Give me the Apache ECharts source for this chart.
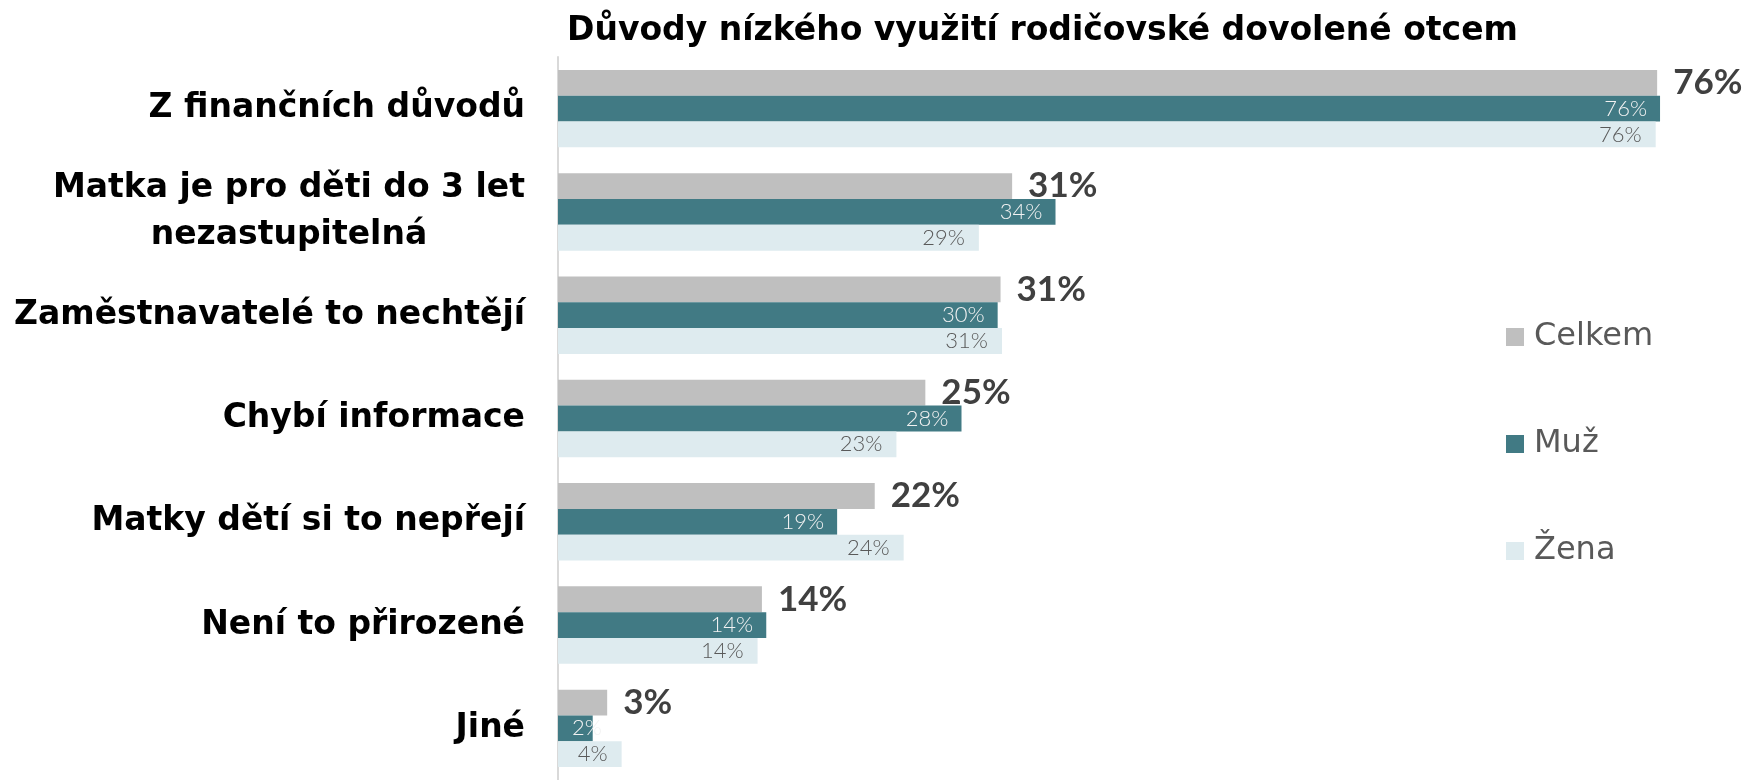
<!DOCTYPE html>
<html>
<head>
<meta charset="utf-8">
<script src="https://cdn.jsdelivr.net/npm/echarts@6/dist/echarts.min.js"></script>
<style>html,body{margin:0;padding:0;background:#fff;}#c{width:1750px;height:780px;}</style>
</head>
<body>
<div id="c"></div>
<script>
var categories = [
  'Z finančních důvodů',
  'Matka je pro děti do 3 let\nnezastupitelná',
  'Zaměstnavatelé to nechtějí',
  'Chybí informace',
  'Matky dětí si to nepřejí',
  'Není to přirozené',
  'Jiné'
];
var seriesNames = ['Celkem', 'Muž', 'Žena'];
var celkem = [76.0, 31.4, 30.6, 25.4, 21.9, 14.1, 3.4];
var muz    = [76.2, 34.4, 30.4, 27.9, 19.3, 14.4, 2.4];
var zena   = [75.9, 29.1, 30.7, 23.4, 23.9, 13.8, 4.4];
var colors = ['#bfbfbf', '#417a84', '#deebef'];

function pct(p) { return Math.round(p.value) + '%'; }

var muzData = muz.map(function (v, i) {
  if (i === categories.length - 1) {
    return { value: v, label: { position: 'insideLeft', distance: 14 } };
  }
  return v;
});

var chart = echarts.init(document.getElementById('c'), null, { renderer: 'canvas' });
chart.setOption({
  animation: false,
  backgroundColor: '#ffffff',
  title: {
    text: 'Důvody nízkého využití rodičovské dovolené otcem',
    left: 562,
    top: 10,
    textStyle: { fontFamily: 'DejaVu Sans', fontWeight: 'bold', fontSize: 33, color: '#000000' }
  },
  legend: {
    orient: 'vertical',
    left: 1501,
    top: 314,
    itemWidth: 18,
    itemHeight: 18,
    itemGap: 71,
    icon: 'rect',
    data: seriesNames,
    textStyle: { fontFamily: 'DejaVu Sans', fontSize: 32, color: '#595959', lineHeight: 36, padding: [0, 0, 0, 5] }
  },
  grid: { left: 558, top: 57, height: 729, right: 35, containLabel: false },
  xAxis: {
    type: 'value', min: 0, max: 80,
    axisLine: { show: false }, axisTick: { show: false },
    axisLabel: { show: false }, splitLine: { show: false }
  },
  yAxis: {
    type: 'category',
    data: categories,
    inverse: true,
    axisLine: { show: true, lineStyle: { color: '#d9d9d9', width: 2 } },
    axisTick: { show: false },
    axisLabel: {
      margin: 33,
      fontFamily: 'DejaVu Sans', fontWeight: 'bold', fontSize: 33, color: '#000000',
      formatter: function (v) {
        return v.split('\n').map(function (s) { return '{c|' + s + '}'; }).join('\n');
      },
      rich: {
        c: { align: 'center', fontFamily: 'DejaVu Sans', fontWeight: 'bold', fontSize: 33, color: '#000000', lineHeight: 47 }
      }
    }
  },
  series: [
    {
      name: 'Celkem', type: 'bar', data: celkem, barWidth: 25.8, barGap: '0%',
      itemStyle: { color: colors[0] },
      label: { show: true, position: 'right', distance: 16, formatter: pct,
        fontFamily: 'Lato', fontWeight: 'bold', fontSize: 35, color: '#404040' }
    },
    {
      name: 'Muž', type: 'bar', data: muzData, barWidth: 25.8, barGap: '0%',
      itemStyle: { color: colors[1] },
      label: { show: true, position: 'insideRight', distance: 13, formatter: pct,
        fontFamily: 'Lato', fontWeight: 300, fontSize: 22, color: '#f2f2f2' }
    },
    {
      name: 'Žena', type: 'bar', data: zena, barWidth: 25.8, barGap: '0%',
      itemStyle: { color: colors[2] },
      label: { show: true, position: 'insideRight', distance: 14, formatter: pct,
        fontFamily: 'Lato', fontWeight: 300, fontSize: 22, color: '#595959' }
    }
  ]
});
</script>
</body>
</html>
